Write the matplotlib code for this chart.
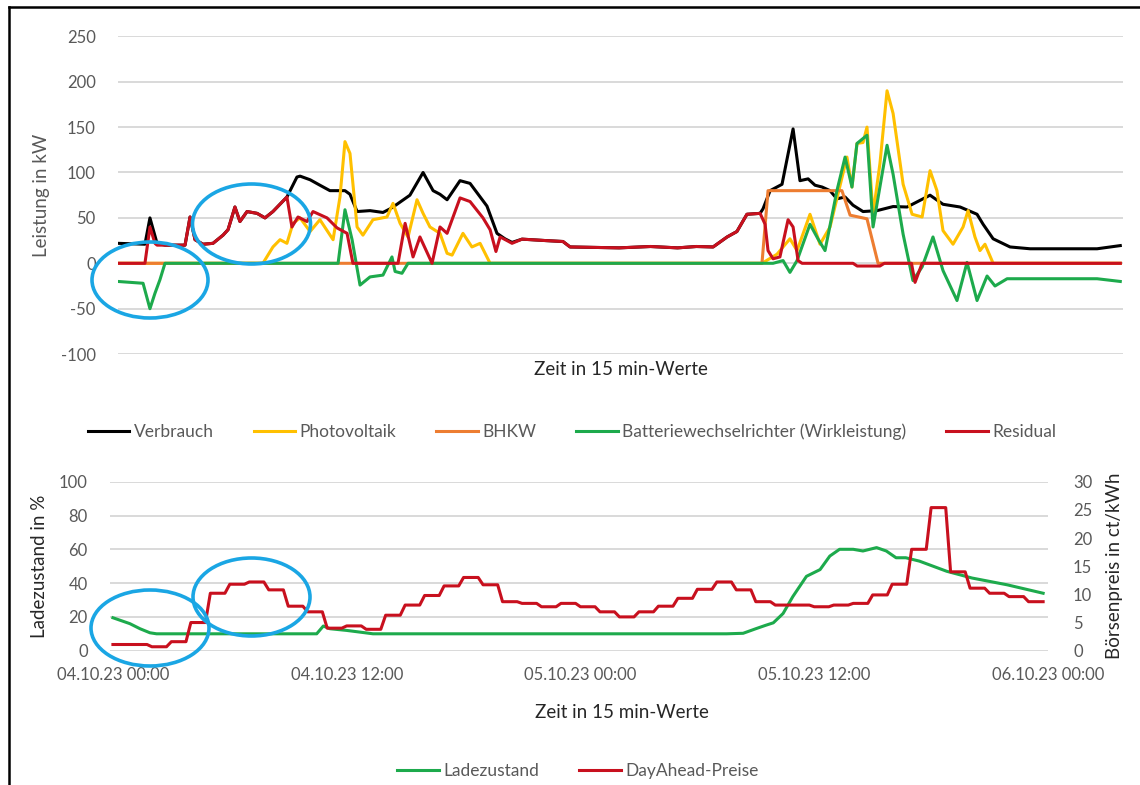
import numpy as np
import matplotlib
matplotlib.use("Agg")
import matplotlib.pyplot as plt
from matplotlib.patches import Ellipse
from matplotlib.lines import Line2D

plt.rcParams['font.family'] = ['Lato', 'DejaVu Sans']
plt.rcParams['axes.unicode_minus'] = False

# ---------------- data (hours since 04.10.23 00:00) ----------------
verb_t = [0, 1.29, 1.53, 1.87, 2.25, 3.21, 3.45, 3.69, 4.07, 4.55, 5.03, 5.27, 5.60, 5.84, 6.18,
          6.66, 7.04, 7.42, 8.09, 8.57, 8.72, 9.20, 9.67, 10.15, 10.87, 11.11, 11.45, 12.07, 12.69,
          13.03, 13.36, 13.98, 14.61, 15.09, 15.42, 15.76, 16.38, 16.86, 17.67, 18.15, 18.53, 18.87,
          19.35, 20.5, 21.31, 21.65, 24.0, 25.5, 26.8, 27.7, 28.5, 29.17, 29.64, 30.12, 30.75, 30.89,
          31.23, 31.80, 32.33, 32.66, 33.05, 33.38, 33.72, 34.10, 34.43, 34.82, 35.20, 35.68, 36.35,
          37.12, 37.79, 38.89, 39.51, 40.33, 41.14, 41.43, 41.91, 42.72, 43.68, 46.89, 48.0]
verb_v = [22, 21, 50, 22, 20, 20, 51, 26, 21, 22, 31, 37, 62, 46, 57,
          55, 50, 57, 73, 95, 96, 92, 86, 80, 80, 76, 57, 58, 56,
          60, 65, 75, 100, 80, 76, 70, 91, 88, 63, 33, 27, 23,
          26.6, 25, 24, 18, 17, 18.5, 17, 18.5, 18, 29, 35, 54, 55, 60,
          80, 87, 148, 91, 93, 86, 84, 80, 71, 73, 64, 57, 58,
          62.5, 62, 75, 65, 62, 54, 43, 27, 18, 16, 16, 19.5]

pv_t = [0, 6.94, 7.42, 7.76, 8.09, 8.38, 8.72, 9.20, 9.67, 10.30, 10.63, 10.87, 11.11, 11.45, 11.73,
        12.21, 12.88, 13.17, 13.51, 13.89, 14.32, 14.61, 14.94, 15.42, 15.76, 16.0, 16.52, 16.95,
        17.34, 17.82, 30.84, 31.56, 32.18, 32.52, 33.14, 33.62, 34.10, 34.91, 35.15, 35.39, 35.68,
        35.87, 36.16, 36.49, 36.83, 37.12, 37.60, 38.03, 38.51, 38.89, 39.22, 39.51, 39.99, 40.47,
        40.71, 41.04, 41.28, 41.52, 41.91, 48.0]
pv_v = [0, 0, 18, 26, 22, 44, 50, 35, 48, 26, 73, 134, 121, 40, 31,
        48, 51, 66, 44, 29, 70, 55, 40, 33, 11, 9, 33, 18,
        22, 0, 0, 10, 27, 14, 54, 21, 40, 117, 84, 132, 133,
        150, 54, 110, 190, 165, 87, 54, 51, 102, 80, 36, 21, 40,
        58, 29, 14, 21, 0, 0]

bhkw_t = [0, 30.84, 31.13, 34.67, 35.06, 35.87, 36.40, 48.0]
bhkw_v = [0, 0, 80, 80, 53, 49, 0, 0]

bat_t = [0, 1.2, 1.53, 1.77, 2.01, 2.25, 10.54, 10.87, 11.21, 11.59, 12.07, 12.69, 13.12, 13.27,
         13.60, 13.89, 31.37, 31.85, 32.18, 32.52, 33.14, 33.52, 33.86, 34.43, 34.82, 35.15, 35.39,
         35.87, 36.16, 36.83, 37.12, 37.60, 38.07, 38.51, 39.03, 39.51, 40.18, 40.66, 41.14, 41.62,
         42.0, 42.58, 46.89, 48.0]
bat_v = [-20, -22, -50, -33, -18, 0, 0, 59, 26, -24, -15, -13, 7, -9,
         -11, 0, 0, 3, -10, 3, 43, 27, 14, 80, 117, 84, 132,
         141, 40, 130, 98, 32, -19, -4, 29, -8, -41, 1, -41, -14,
         -25, -17, -17, -20]

res_t = [0, 1.29, 1.53, 1.77, 1.87, 3.21, 3.45, 3.69, 4.07, 4.55, 5.03, 5.27, 5.60, 5.84, 6.18,
         6.66, 7.04, 7.42, 8.09, 8.33, 8.62, 9.05, 9.34, 10.01, 10.49, 10.97, 11.25, 13.41, 13.75,
         14.13, 14.46, 15.04, 15.42, 15.76, 16.38, 16.86, 17.48, 17.82, 18.10, 18.30, 18.63, 18.87,
         19.35, 20.5, 21.31, 21.65, 24.0, 25.5, 26.8, 27.7, 28.5, 29.17, 29.64, 30.12, 30.75, 30.99,
         31.13, 31.37, 31.70, 32.09, 32.33, 32.57, 32.76, 35.2, 35.4, 36.49, 36.7, 38.0, 38.17,
         38.51, 48.0]
res_v = [0, 0, 40, 22, 20, 20, 51, 26, 21, 22, 31, 37, 62, 46, 57,
         55, 50, 57, 73, 40, 51, 46, 57, 50, 39, 33, 0, 0, 44,
         7, 29, 0, 40, 33, 72, 68, 50, 37, 13, 29, 25, 22,
         26.6, 25, 24, 18, 17, 18.5, 17, 18.5, 18, 29, 35, 54, 55, 43,
         14, 5, 7, 48, 40, 3, 0, 0, -3, -3, 0, 0, -21,
         0, 0]

soc_t = [0, 0.87, 1.39, 1.9, 2.24, 10.46, 10.8, 11.14, 12.0, 12.68, 13.35, 31.5, 32.35, 33.0,
         33.5, 33.9, 34.4, 34.9, 35.6, 36.3, 36.8, 37.3, 38.0, 38.5, 39.2, 39.7, 40.2, 40.7, 41.4,
         42.8, 44.1, 45.9, 47.75]
soc_v = [19.5, 16, 13, 10.6, 10, 10, 14.6, 13, 12, 11, 10, 10, 10.3, 13,
         15, 16.5, 22, 32, 44, 48, 56, 60, 60, 59, 61, 59, 55, 55, 53,
         47, 43, 39, 34]

# hourly day-ahead prices in ct/kWh (each valid for four 15-min values)
price_hourly = [1.1, 1.1, 0.7, 1.6, 5.0, 10.2, 11.8, 12.2, 10.8, 7.9, 6.9, 4.0, 4.4, 3.8, 6.3, 8.1,
                9.8, 11.5, 13.0, 11.7, 8.7, 8.4, 7.8, 8.4, 7.8, 6.9, 6.0, 6.9, 7.9, 9.3, 10.9, 12.2,
                10.8, 8.7, 8.1, 8.1, 7.8, 8.1, 8.4, 9.9, 11.8, 18.0, 25.4, 14.0, 11.1, 10.2, 9.6, 8.7]

top_labels = ["Verbrauch", "Photovoltaik", "BHKW", "Batteriewechselrichter (Wirkleistung)", "Residual"]
bottom_labels = ["Ladezustand", "DayAhead-Preise"]
xtick_hours = [0, 12, 24, 36, 48]
xtick_labels = ["04.10.23 00:00", "04.10.23 12:00", "05.10.23 00:00", "05.10.23 12:00", "06.10.23 00:00"]

# ---------------- style ----------------
C_BLACK = "#000000"
C_PV = "#FFC000"
C_BHKW = "#ED7D31"
C_BAT = "#1DAA4C"
C_RES = "#C8101E"
C_GRID = "#D9D9D9"
C_TXT = "#595959"
C_ELL = "#1AA6E4"
LW = 2.2

W, H = 1140, 785
fig = plt.figure(figsize=(W / 100, H / 100), dpi=100)
fig.patch.set_facecolor("white")


def rect(l, t, r, b):
    return [l / W, 1 - b / H, (r - l) / W, (b - t) / H]


def style(ax):
    for s in ax.spines.values():
        s.set_visible(False)
    ax.tick_params(length=0, colors=C_TXT, labelsize=12)
    ax.grid(axis="y", color=C_GRID, linewidth=1.4)
    ax.set_axisbelow(True)


# ---------------- top chart ----------------
ax1 = fig.add_axes(rect(118, 36.3, 1123, 354.1))
style(ax1)
ax1.set_xlim(0, 48.13)
ax1.set_ylim(-100, 250)
ax1.set_yticks(np.arange(-100, 251, 50))
ax1.tick_params(axis="y", pad=16)
ax1.set_xticks([])
series = [(verb_t, verb_v, C_BLACK), (pv_t, pv_v, C_PV), (bhkw_t, bhkw_v, C_BHKW),
          (bat_t, bat_v, C_BAT), (res_t, res_v, C_RES)]
handles = []
for (t, v, c), lab in zip(series, top_labels):
    ln, = ax1.plot(t, v, color=c, lw=LW, solid_joinstyle="round", label=lab)
    handles.append(ln)
ax1.set_ylabel("Leistung in kW", fontsize=13.5, color=C_TXT, labelpad=8)
ax1.set_xlabel("Zeit in 15 min-Werte", fontsize=13.5, color="#262626", labelpad=5)

fig.legend(handles=handles, labels=top_labels, loc="center", bbox_to_anchor=(572 / W, 1 - 432 / H),
           ncol=5, frameon=False, fontsize=12.5, handlelength=2.4, handletextpad=0.25,
           columnspacing=2.3, labelcolor=C_TXT)

# ---------------- bottom chart ----------------
ax2 = fig.add_axes(rect(110, 481.7, 1048, 650.7))
style(ax2)
ax2.set_xlim(-0.15, 48.0)
ax2.set_ylim(0, 100)
ax2.set_yticks(np.arange(0, 101, 20))
ax2.tick_params(axis="y", pad=16)
ax2.set_xticks(xtick_hours)
ax2.set_xticklabels(xtick_labels)
ax2.tick_params(axis="x", pad=12)
l_soc, = ax2.plot(soc_t, soc_v, color=C_BAT, lw=LW, label=bottom_labels[0])
ax2.set_ylabel("Ladezustand in %", fontsize=13.5, color="#262626", labelpad=8)
ax2.set_xlabel("Zeit in 15 min-Werte", fontsize=13.5, color="#262626")
ax2.xaxis.set_label_coords((622 - 110) / 938, -(712 - 650.7) / 169)
ax2.xaxis.label.set_va("center")

ax3 = ax2.twinx()
for s in ax3.spines.values():
    s.set_visible(False)
ax3.set_ylim(0, 30)
ax3.set_yticks(np.arange(0, 31, 5))
ax3.tick_params(length=0, colors=C_TXT, labelsize=12, pad=18)
price_t = np.arange(len(price_hourly) * 4) / 4.0
l_price, = ax3.plot(price_t, np.repeat(price_hourly, 4), color=C_RES, lw=LW, label=bottom_labels[1])
ax3.set_ylabel("Börsenpreis in ct/kWh", fontsize=13.5, color="#262626", labelpad=10)

fig.legend(handles=[l_soc, l_price], labels=bottom_labels, loc="center",
           bbox_to_anchor=(578 / W, 1 - 771 / H), ncol=2, frameon=False, fontsize=12.5,
           handlelength=2.4, handletextpad=0.25, columnspacing=2.3, labelcolor=C_TXT)

# ---------------- highlight ellipses ----------------
for cx, cy, w, h in [(150, 280, 116, 76), (251.5, 224, 118, 80),
                     (150, 628, 118, 76), (251.5, 597, 117, 78)]:
    fig.add_artist(Ellipse((cx / W, 1 - cy / H), w / W, h / H, transform=fig.transFigure,
                           fill=False, edgecolor=C_ELL, lw=2.6))

# ---------------- frame (left and top border) ----------------
fig.add_artist(Line2D([9 / W, 9 / W], [0, 1 - 7 / H], transform=fig.transFigure, color="black", lw=1.8))
fig.add_artist(Line2D([9 / W, 1], [1 - 7 / H, 1 - 7 / H], transform=fig.transFigure, color="black", lw=1.8))

fig.savefig("out.png", dpi=100, facecolor="white")
